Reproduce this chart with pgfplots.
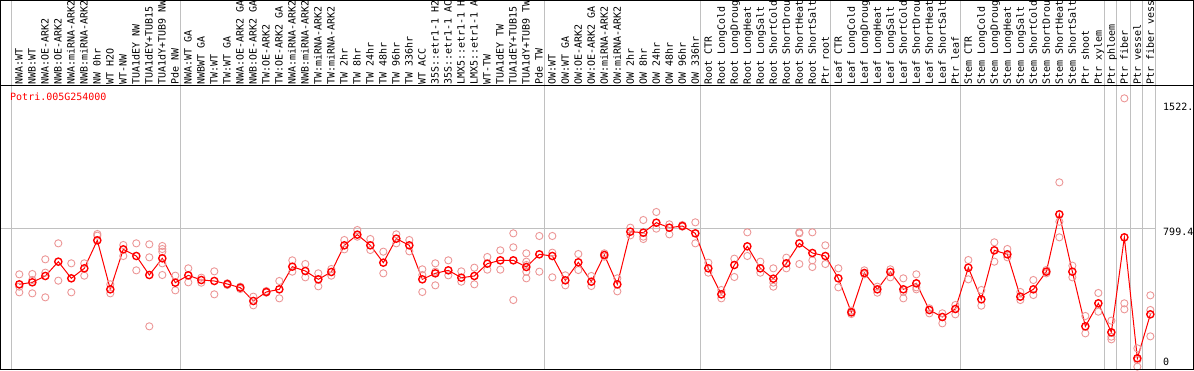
\documentclass[border=0pt]{standalone}
\usepackage{fontspec}
\setmainfont{DejaVu Sans Mono}
\usepackage{pgfplots}
\pgfplotsset{compat=1.18}
\usepackage{pgfplotstable}
\definecolor{gridgray}{RGB}{192,192,192}
\definecolor{reppink}{RGB}{236,150,150}
\definecolor{meanred}{RGB}{255,0,0}

\pgfplotstableread{
x y
0 475.9
1 487.5
2 524.1
3 606.9
4 510.6
5 568.4
6 730.2
7 447.0
8 678.2
9 639.7
10 529.8
11 626.2
12 485.5
13 527.9
14 500.9
15 495.2
16 477.8
17 456.6
18 379.6
19 431.6
20 447.0
21 578.0
22 553.0
23 504.8
24 547.2
25 701.3
26 763.0
27 701.3
28 601.1
29 739.9
30 701.3
31 504.8
32 539.5
33 556.8
34 514.4
35 524.1
36 595.4
37 614.6
38 614.6
39 576.1
40 649.3
41 639.7
42 499.0
43 603.1
44 491.3
45 645.4
46 475.9
47 780.3
48 774.5
49 832.3
50 803.4
51 813.1
52 770.7
53 568.4
54 418.1
55 587.6
56 695.5
57 568.4
58 508.6
59 597.3
60 712.9
61 657.0
62 639.7
63 510.6
64 314.1
65 541.4
66 447.0
67 547.2
68 447.0
69 481.7
70 327.5
71 287.1
72 333.3
73 572.2
74 389.2
75 672.4
76 649.3
77 404.6
78 447.0
79 549.1
80 880.5
81 549.1
82 233.1
83 366.1
84 198.5
85 747.6
86 48.2
87 302.5
}\means

\pgfplotstableread{
x y
0 533.7
0 462.4
0 429.7
1 535.6
1 500.9
1 423.9
2 620.4
2 543.3
2 400.8
3 712.9
3 497.1
4 597.3
4 429.7
5 597.3
5 526.0
6 766.8
6 757.2
7 475.9
7 423.9
8 703.2
8 639.7
9 712.9
9 556.8
10 707.1
10 632.0
10 233.1
11 697.5
11 680.1
11 664.7
11 597.3
11 529.8
12 526.0
12 441.2
13 568.4
13 487.5
14 514.4
14 485.5
15 551.0
15 418.1
16 481.7
16 472.0
17 462.4
17 448.9
18 404.6
18 354.5
19 437.4
19 427.7
20 495.2
20 395.0
21 614.6
21 549.1
22 593.4
22 516.4
23 539.5
23 464.3
24 564.5
24 526.0
25 732.1
25 678.2
26 789.9
26 751.4
27 737.9
27 674.3
28 664.7
28 539.5
29 764.9
29 712.9
30 732.1
30 666.6
31 562.6
31 529.8
31 431.6
32 597.3
32 549.1
32 470.1
33 614.6
33 527.9
34 551.0
34 491.3
35 572.2
35 475.9
36 633.9
36 560.7
37 672.4
37 560.7
38 770.7
38 689.8
38 385.3
39 655.1
39 606.9
39 587.6
39 549.1
39 510.6
40 755.3
40 549.1
41 755.3
41 658.9
41 516.4
42 527.9
42 470.1
43 651.2
43 558.7
44 524.1
44 466.3
45 655.1
45 635.8
46 510.6
46 435.4
47 803.4
47 759.1
48 847.7
48 751.4
48 737.9
49 894.0
49 797.7
50 822.7
50 764.9
51 818.8
51 809.2
52 834.3
52 712.9
53 601.1
53 543.3
54 443.1
54 395.0
55 624.3
55 518.3
56 776.5
56 639.7
57 606.9
57 543.3
58 568.4
58 485.5
58 462.4
59 630.0
59 568.4
60 776.5
60 770.7
60 593.4
61 776.5
61 614.6
61 576.1
62 701.3
62 593.4
63 568.4
63 458.5
64 323.7
64 304.4
65 556.8
65 533.7
66 462.4
66 427.7
67 562.6
67 516.4
68 510.6
68 433.5
68 395.0
69 533.7
69 458.5
69 447.0
70 308.3
70 337.2
71 308.3
71 250.5
72 356.4
72 302.5
73 616.5
73 504.8
74 443.1
74 352.6
75 718.7
75 606.9
76 680.1
76 632.0
77 431.6
77 385.3
78 500.9
78 414.2
79 539.5
79 558.7
80 1065.5
80 838.1
80 747.6
81 583.8
81 516.4
82 292.9
82 192.7
83 425.8
83 317.9
84 265.9
84 173.4
84 158.0
85 1551.0
85 366.1
85 331.4
86 106.0
86 38.0
86 0.0
87 412.3
87 327.5
87 175.3
}\reps

\begin{document}
\begin{tikzpicture}
\useasboundingbox (0,0) rectangle (1194pt,370pt);
\begin{scope}
\clip (0,0) rectangle (1194pt,370pt);
% vertical separators (full height)
\foreach \gx in {11,180,544,700.7,830.7,960.7,1104,1116.7,1130,1142.7,1155.7}{
  \draw[gridgray, line width=1pt] (\gx pt,1pt) -- (\gx pt,370pt);
}
\begin{axis}[
  at={(1pt,1pt)}, anchor=south west,
  scale only axis,
  width=1154.7pt, height=283pt,
  xmin=-1.408, xmax=87.415,
  ymin=-13.5, ymax=1622.3,
  axis line style={draw=none},
  major tick length=0pt,
  ytick={799.4}, yticklabels={},
  ymajorgrids, grid style={gridgray, line width=1pt},
  xtick={0,...,87},
  xticklabel pos=upper,
  xticklabels={NWA:WT,NWB:WT,NWA:OE-ARK2,NWB:OE-ARK2,NWA:miRNA-ARK2,NWB:miRNA-ARK2,NW 0hr,WT H2O,WT-NW,TUA1dEY NW,TUA1dEY+TUB15 NW,TUA1dY+TUB9 NW,Pde NW,
  NWA:WT GA,NWBWT GA,TW:WT,TW:WT GA,NWA:OE-ARK2 GA,NWB:OE-ARK2 GA,TW:OE-ARK2,TW:OE-ARK2 GA,NWA:miRNA-ARK2 GA,NWB:miRNA-ARK2 GA,TW:miRNA-ARK2,TW:miRNA-ARK2 GA,TW 2hr,TW 8hr,TW 24hr,TW 48hr,TW 96hr,TW 336hr,WT ACC,35S::etr1-1 H2O,35S::etr1-1 ACC,LMX5::etr1-1 H2O,LMX5::etr1-1 ACC,WT-TW,TUA1dEY TW,TUA1dEY+TUB15 TW,TUA1dY+TUB9 TW,Pde TW,
  OW:WT,OW:WT GA,OW:OE-ARK2,OW:OE-ARK2 GA,OW:miRNA-ARK2,OW:miRNA-ARK2 GA,OW 2hr,OW 8hr,OW 24hr,OW 48hr,OW 96hr,OW 336hr,
  Root CTR,Root LongCold,Root LongDrought,Root LongHeat,Root LongSalt,Root ShortCold,Root ShortDrought,Root ShortHeat,Root ShortSalt,Ptr root,
  Leaf CTR,Leaf LongCold,Leaf LongDrought,Leaf LongHeat,Leaf LongSalt,Leaf ShortCold,Leaf ShortDrought,Leaf ShortHeat,Leaf ShortSalt,Ptr leaf,
  Stem CTR,Stem LongCold,Stem LongDrought,Stem LongHeat,Stem LongSalt,Stem ShortCold,Stem ShortDrought,Stem ShortHeat,Stem ShortSalt,Ptr shoot,Ptr xylem,
  Ptr phloem,Ptr fiber,Ptr vessel,Ptr fiber vessel},
  xticklabel style={rotate=90, anchor=west, inner sep=1.5pt, text height=1.5ex, text depth=0.25ex,
    font=\fontsize{10pt}{12pt}\selectfont},
  clip=true,
]
\addplot[only marks, mark=o, mark size=3.6pt, color=reppink, mark options={line width=0.9pt}] table[x=x,y=y]{\reps};
\addplot[meanred, line width=1pt, mark=o, mark size=3.6pt, mark options={line width=1.4pt, solid}] table[x=x,y=y]{\means};
\end{axis}
% frame
\draw[black, line width=1pt] (0.5pt,0.5pt) rectangle (1193.5pt,369.5pt);
\draw[black, line width=1pt] (0pt,284.3pt) -- (1194pt,284.3pt);
\node[anchor=west, inner sep=0pt, text=meanred, font=\fontsize{10pt}{12pt}\selectfont] at (10pt,273pt) {Potri.005G254000};
\node[anchor=west, inner sep=0pt, font=\fontsize{10pt}{12pt}\selectfont] at (1163pt,262.7pt) {1522.};
\node[anchor=west, inner sep=0pt, font=\fontsize{10pt}{12pt}\selectfont] at (1163pt,137.7pt) {799.4};
\node[anchor=west, inner sep=0pt, font=\fontsize{10pt}{12pt}\selectfont] at (1163pt,8pt) {0};
\end{scope}
\end{tikzpicture}
\end{document}
